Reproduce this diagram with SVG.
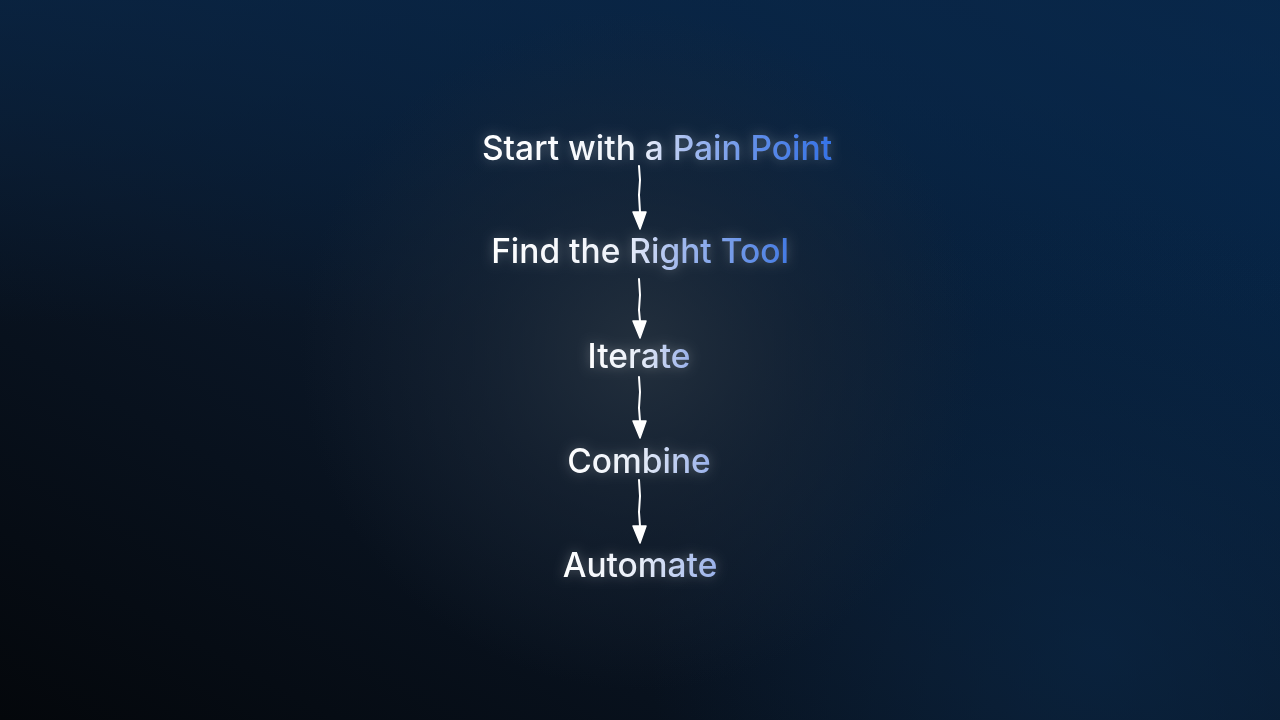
<svg xmlns="http://www.w3.org/2000/svg" width="1280" height="720" viewBox="0 0 1280 720">
<defs>
<linearGradient id="bg" x1="0" y1="1" x2="1" y2="0">
<stop offset="0" stop-color="#04070b"/>
<stop offset="0.4" stop-color="#0a1626"/>
<stop offset="1" stop-color="#052a52"/>
</linearGradient>
<linearGradient id="top" x1="0" y1="0" x2="0" y2="1">
<stop offset="0" stop-color="#0a2646" stop-opacity="0.7"/>
<stop offset="0.45" stop-color="#0a2646" stop-opacity="0"/>
</linearGradient>
<radialGradient id="br" cx="1100" cy="650" r="450" gradientUnits="userSpaceOnUse">
<stop offset="0" stop-color="#0a2848" stop-opacity="0.6"/>
<stop offset="1" stop-color="#0a2848" stop-opacity="0"/>
</radialGradient>
<radialGradient id="glow" cx="640" cy="350" r="340" gradientUnits="userSpaceOnUse">
<stop offset="0" stop-color="#26323f" stop-opacity="0.9"/>
<stop offset="0.5" stop-color="#1c2837" stop-opacity="0.5"/>
<stop offset="1" stop-color="#1c2837" stop-opacity="0"/>
</radialGradient>
<linearGradient id="g1" x1="0" y1="0" x2="1" y2="0">
<stop offset="0" stop-color="#ffffff"/>
<stop offset="0.45" stop-color="#f0f4fb"/>
<stop offset="0.58" stop-color="#a9bff0"/>
<stop offset="0.8" stop-color="#5a8ae8"/>
<stop offset="1" stop-color="#3472e6"/>
</linearGradient>
<linearGradient id="g2" x1="0" y1="0" x2="1" y2="0">
<stop offset="0" stop-color="#ffffff"/>
<stop offset="0.45" stop-color="#eef2fa"/>
<stop offset="0.62" stop-color="#a6bcee"/>
<stop offset="1" stop-color="#427ae4"/>
</linearGradient>
<linearGradient id="g3" x1="0" y1="0" x2="1" y2="0">
<stop offset="0" stop-color="#ffffff"/>
<stop offset="0.5" stop-color="#e8eef8"/>
<stop offset="1" stop-color="#98b0ea"/>
</linearGradient>
<filter id="soft" x="-20%" y="-50%" width="140%" height="200%">
<feGaussianBlur in="SourceAlpha" stdDeviation="6" result="b"/>
<feFlood flood-color="#ffffff" flood-opacity="0.3"/>
<feComposite in2="b" operator="in" result="g"/>
<feMerge><feMergeNode in="g"/><feMergeNode in="SourceGraphic"/></feMerge>
</filter>
<style>
.t{font-family:Inter,"Liberation Sans",sans-serif;font-size:33.5px;font-weight:500;text-anchor:middle;filter:url(#soft)}
.c{fill:none;stroke:#ffffff;stroke-width:2;stroke-linecap:round}
.h{fill:#ffffff;stroke:#ffffff;stroke-width:1.5;stroke-linejoin:round}
</style>
</defs>
<rect width="1280" height="720" fill="url(#bg)"/>
<rect width="1280" height="720" fill="url(#top)"/>
<rect width="1280" height="720" fill="url(#br)"/>
<rect width="1280" height="720" fill="url(#glow)"/>
<g id="connectors">
<path class="c" d="M639 166 L640 180 L639 195 L640 212"/>
<path class="h" d="M633 212 L646 212 L640 229 Z"/>
<path class="c" d="M639 279 L640 295 L639 310 L640 321"/>
<path class="h" d="M633 321 L646 321 L640 338 Z"/>
<path class="c" d="M639 377 L640 392 L639 408 L640 421"/>
<path class="h" d="M633 421 L646 421 L640 438 Z"/>
<path class="c" d="M639 480 L640 496 L639 512 L640 526"/>
<path class="h" d="M633 526 L646 526 L640 543 Z"/>
</g>
<g id="n1"><text class="t" x="657" y="160" fill="url(#g1)">Start with a Pain Point</text></g>
<g id="n2"><text class="t" x="640" y="263" fill="url(#g2)">Find the Right Tool</text></g>
<g id="n3"><text class="t" x="639" y="368" fill="url(#g3)">Iterate</text></g>
<g id="n4"><text class="t" x="639" y="473" fill="url(#g3)">Combine</text></g>
<g id="n5"><text class="t" x="640" y="577" fill="url(#g3)">Automate</text></g>
</svg>
